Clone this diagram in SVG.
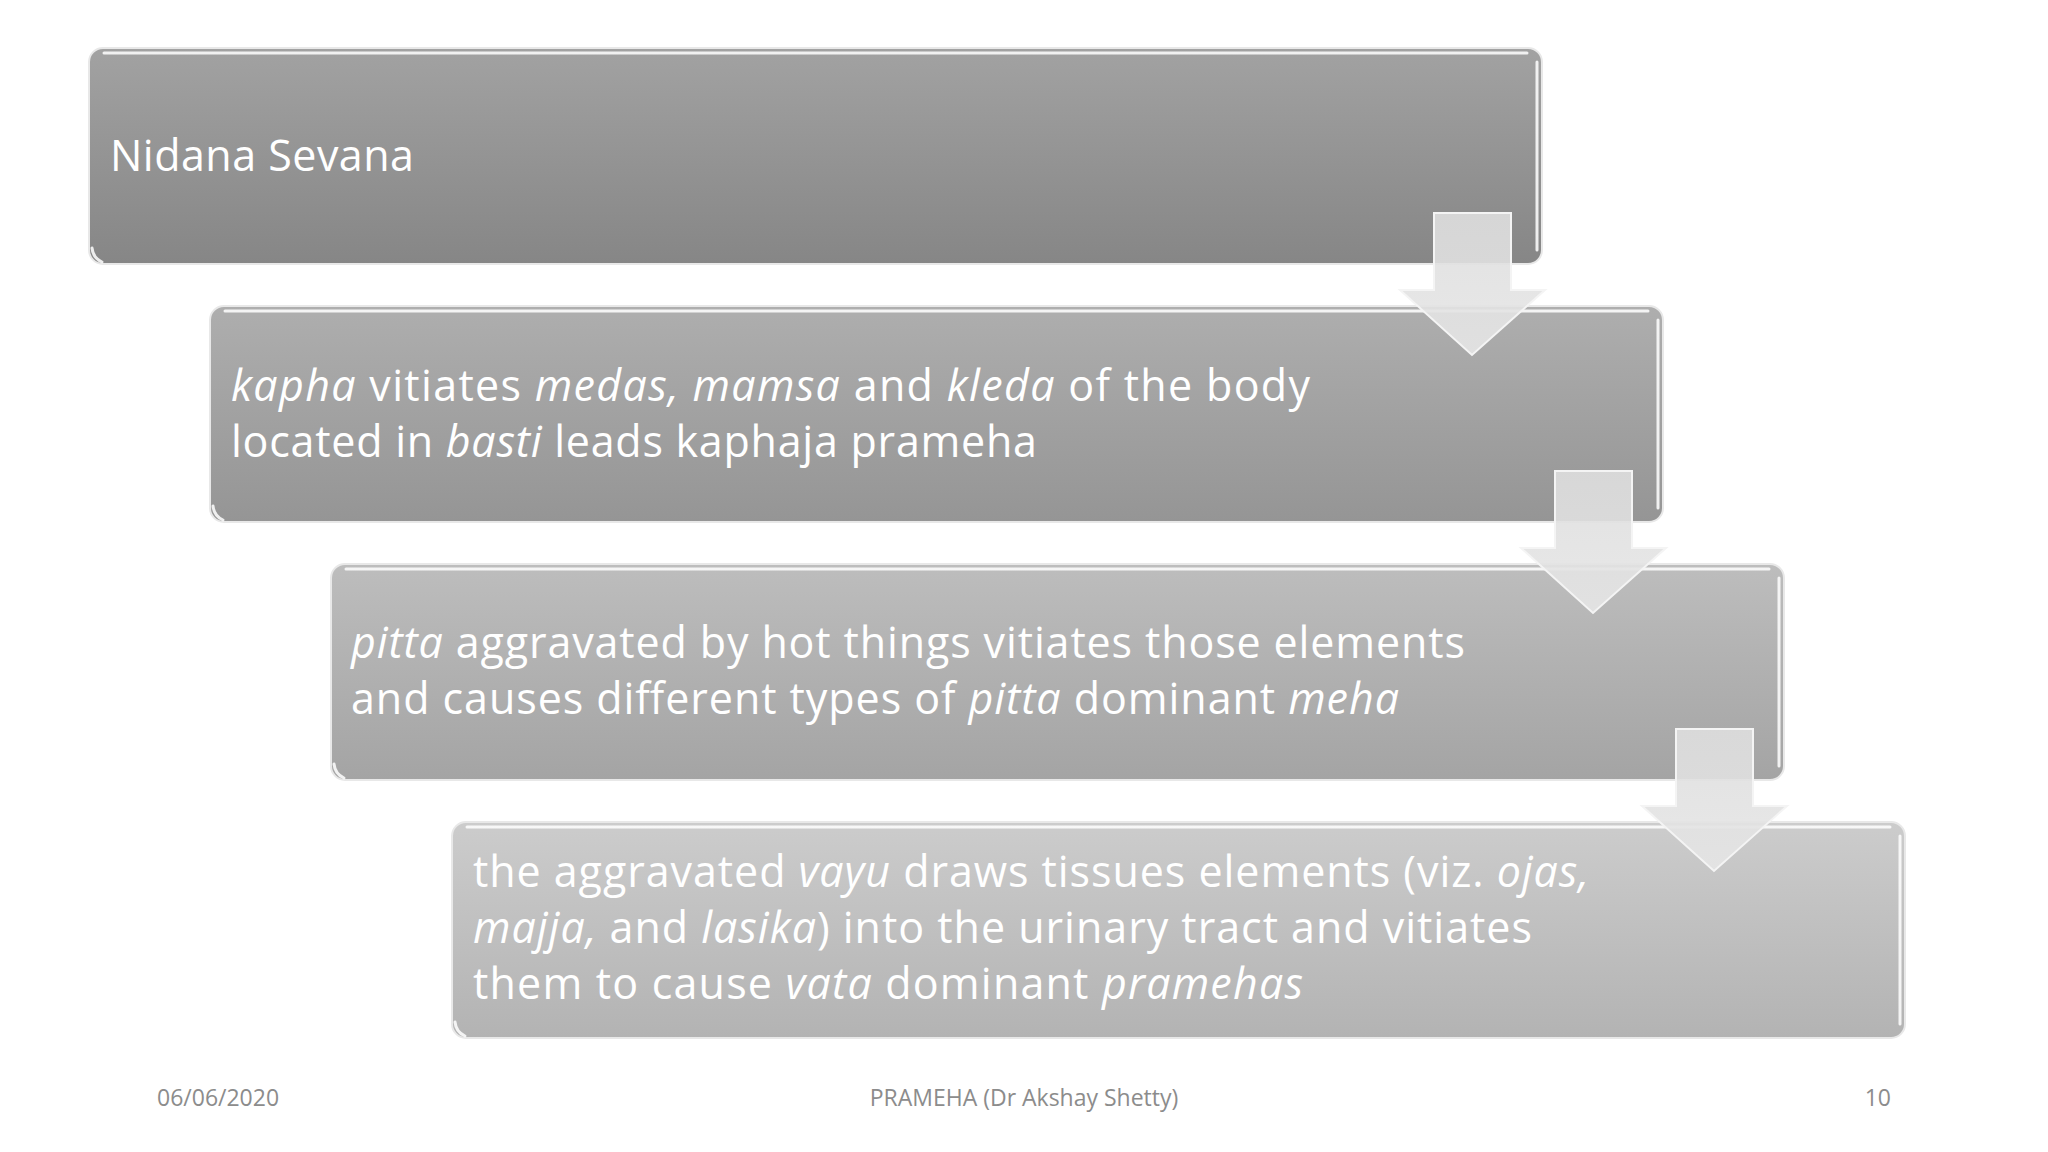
<svg xmlns="http://www.w3.org/2000/svg" width="2048" height="1152" viewBox="0 0 2048 1152">
<defs>
<linearGradient id="g1" x1="0" y1="0" x2="0" y2="1"><stop offset="0" stop-color="#a2a2a2"/><stop offset="1" stop-color="#868686"/></linearGradient>
<linearGradient id="g2" x1="0" y1="0" x2="0" y2="1"><stop offset="0" stop-color="#aeaeae"/><stop offset="1" stop-color="#959595"/></linearGradient>
<linearGradient id="g3" x1="0" y1="0" x2="0" y2="1"><stop offset="0" stop-color="#bdbdbd"/><stop offset="1" stop-color="#a4a4a4"/></linearGradient>
<linearGradient id="g4" x1="0" y1="0" x2="0" y2="1"><stop offset="0" stop-color="#cccccc"/><stop offset="1" stop-color="#b3b3b3"/></linearGradient>
<linearGradient id="ga" x1="0" y1="0" x2="0" y2="1"><stop offset="0" stop-color="#dedede"/><stop offset="1" stop-color="#e6e6e6"/></linearGradient>
</defs>
<style>
.box{stroke:#e8e8e8;stroke-width:2}
.hl{fill:none;stroke:#ffffff;stroke-width:3;stroke-opacity:0.85;stroke-linecap:round}
.t{font-family:"Open Sans","Liberation Sans",sans-serif;font-size:43px;fill:#ffffff}
.i{font-style:italic}
.arrow{fill:url(#ga);fill-opacity:0.9;stroke:#f4f4f4;stroke-width:2;stroke-linejoin:miter}
.ft{font-family:"Open Sans","Liberation Sans",sans-serif;font-size:23px;fill:#8c8c8c}
</style>
<rect width="2048" height="1152" fill="#ffffff"/>

<g id="node1">
<rect class="box" x="89" y="48" width="1453" height="216" rx="14" fill="url(#g1)"/>
<path class="hl" d="M104 53 H1527"/>
<path class="hl" d="M1537 62 V250"/>
<path class="hl" d="M92 248 Q93 258 102 262"/>
<text class="t" x="110" y="171" textLength="304" lengthAdjust="spacing">Nidana Sevana</text>
</g>

<g id="node2">
<rect class="box" x="210" y="306" width="1453" height="216" rx="14" fill="url(#g2)"/>
<path class="hl" d="M225 311 H1648"/>
<path class="hl" d="M1658 320 V508"/>
<path class="hl" d="M213 506 Q214 516 223 520"/>
<text class="t" x="231" y="401" textLength="1079" lengthAdjust="spacing"><tspan class="i">kapha</tspan> vitiates <tspan class="i">medas, mamsa</tspan> and <tspan class="i">kleda</tspan> of the body</text>
<text class="t" x="231" y="457" textLength="806" lengthAdjust="spacing">located in <tspan class="i">basti</tspan> leads kaphaja prameha</text>
</g>

<g id="node3">
<rect class="box" x="331" y="564" width="1453" height="216" rx="14" fill="url(#g3)"/>
<path class="hl" d="M346 569 H1769"/>
<path class="hl" d="M1779 578 V766"/>
<path class="hl" d="M334 764 Q335 774 344 778"/>
<text class="t" x="351" y="658" textLength="1114" lengthAdjust="spacing"><tspan class="i">pitta</tspan> aggravated by hot things vitiates those elements</text>
<text class="t" x="351" y="714" textLength="1048" lengthAdjust="spacing">and causes different types of <tspan class="i">pitta</tspan> dominant <tspan class="i">meha</tspan></text>
</g>

<g id="node4">
<rect class="box" x="452" y="822" width="1453" height="216" rx="14" fill="url(#g4)"/>
<path class="hl" d="M467 827 H1890"/>
<path class="hl" d="M1900 836 V1024"/>
<path class="hl" d="M455 1022 Q456 1032 465 1036"/>
<text class="t" x="473" y="887" textLength="1116" lengthAdjust="spacing">the aggravated <tspan class="i">vayu</tspan> draws tissues elements (viz. <tspan class="i">ojas,</tspan></text>
<text class="t" x="473" y="943" textLength="1059" lengthAdjust="spacing"><tspan class="i">majja,</tspan> and <tspan class="i">lasika</tspan>) into the urinary tract and vitiates</text>
<text class="t" x="473" y="999" textLength="830" lengthAdjust="spacing">them to cause <tspan class="i">vata</tspan> dominant <tspan class="i">pramehas</tspan></text>
</g>

<g id="connectors">
<polygon class="arrow" points="1434,213 1511,213 1511,290 1545,290 1472,355 1400,290 1434,290"/>
<polygon class="arrow" points="1555,471 1632,471 1632,548 1666,548 1593,613 1521,548 1555,548"/>
<polygon class="arrow" points="1676,729 1753,729 1753,806 1787,806 1714,871 1642,806 1676,806"/>
</g>

<g id="footer">
<text class="ft" x="157" y="1106">06/06/2020</text>
<text class="ft" x="1024" y="1106" text-anchor="middle">PRAMEHA (Dr Akshay Shetty)</text>
<text class="ft" x="1891" y="1106" text-anchor="end">10</text>
</g>
</svg>
